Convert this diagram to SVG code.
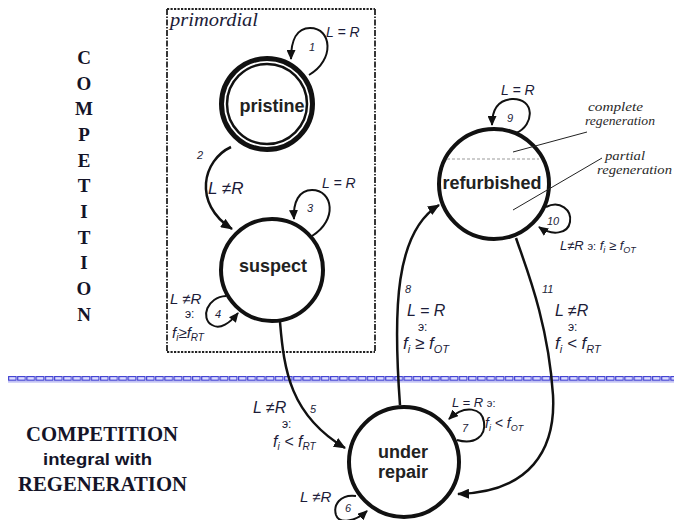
<svg xmlns="http://www.w3.org/2000/svg" width="674" height="520" viewBox="0 0 674 520">
  <defs>
    <marker id="ah" viewBox="0 0 12 10" refX="11" refY="5" markerWidth="12" markerHeight="10" orient="auto" markerUnits="userSpaceOnUse">
      <path d="M0,0 L12,5 L0,10 z" fill="#111"/>
    </marker>
    <marker id="ahs" viewBox="0 0 10 9" refX="9" refY="4.5" markerWidth="10" markerHeight="9" orient="auto" markerUnits="userSpaceOnUse">
      <path d="M0,0 L10,4.5 L0,9 z" fill="#111"/>
    </marker>
    <pattern id="rule" width="9.2" height="7" patternUnits="userSpaceOnUse" x="8" y="376">
      <rect x="0.6" y="0.6" width="7.6" height="3.6" fill="#dcdcff" stroke="#3a3ad0" stroke-width="1.1"/>
      <line x1="0" y1="5.9" x2="9.2" y2="5.9" stroke="#a9a9f0" stroke-width="1.2"/>
    </pattern>
  </defs>
  <style>
    .lbl { font-family: "Liberation Sans", Arial, sans-serif; font-style: italic; fill: #1c1c38; }
    .num { font-family: "Liberation Sans", Arial, sans-serif; font-style: italic; font-size: 11px; fill: #1c1c38; }
    .e { font-family: "Liberation Sans", Arial, sans-serif; font-size: 12px; fill: #1c1c38; }
    .name { font-family: "Liberation Sans", Arial, sans-serif; font-weight: bold; font-size: 18px; text-anchor: middle; fill: #222; }
    .ring { fill: #fff; stroke: #111; stroke-width: 4; }
    .edge { fill: none; stroke: #111; stroke-width: 2.5; marker-end: url(#ah); }
    .loop { fill: none; stroke: #111; stroke-width: 2; marker-end: url(#ahs); }
    .serif { font-family: "Liberation Serif", "Times New Roman", serif; font-weight: bold; fill: #141428; }
    .note { font-family: "Liberation Serif", "Times New Roman", serif; font-style: italic; font-size: 13px; fill: #2a2a2a; }
    .pointer { stroke: #222; stroke-width: 1; fill: none; }
  </style>

  <rect width="674" height="520" fill="#fff"/>

  <!-- side heading, stacked letters -->
  <g id="side-heading" class="serif" font-size="19" text-anchor="middle">
    <text x="84" y="64">C</text>
    <text x="84" y="90">O</text>
    <text x="84" y="115">M</text>
    <text x="84" y="141">P</text>
    <text x="84" y="167">E</text>
    <text x="84" y="192">T</text>
    <text x="84" y="218">I</text>
    <text x="84" y="244">T</text>
    <text x="84" y="269">I</text>
    <text x="84" y="295">O</text>
    <text x="84" y="321">N</text>
  </g>

  <!-- lower heading -->
  <g id="lower-heading">
    <text class="serif" x="26" y="441" font-size="20" textLength="152" lengthAdjust="spacingAndGlyphs">COMPETITION</text>
    <text x="43" y="465" font-family="Liberation Sans, Arial, sans-serif" font-weight="bold" font-size="17" fill="#141428" textLength="109" lengthAdjust="spacingAndGlyphs">integral with</text>
    <text class="serif" x="18" y="491" font-size="20" textLength="169" lengthAdjust="spacingAndGlyphs">REGENERATION</text>
  </g>

  <!-- primordial frame -->
  <g id="primordial">
    <path d="M167 9 H375 M167 352 H375" stroke="#222" stroke-width="2" stroke-dasharray="2.2 1.3" fill="none"/>
    <path d="M167 9 V352 M375 9 V352" stroke="#222" stroke-width="1.8" stroke-dasharray="6 1.5 1.5 1.5" fill="none"/>
    <text x="170" y="26" font-family="Liberation Serif, serif" font-style="italic" font-size="19" fill="#1c1c38" textLength="88" lengthAdjust="spacingAndGlyphs">primordial</text>
  </g>

  <!-- boundary rule -->
  <rect id="boundary" x="8" y="376" width="666" height="7" fill="url(#rule)"/>

  <!-- connectors -->
  <g id="connectors">
    <path id="t1" class="loop" d="M309 75 C335 60, 332 28, 310 28 C297 28, 291 40, 291 59"/>
    <path id="t2" class="edge" d="M231 147 C203 160, 192 203, 232 229"/>
    <path id="t3" class="loop" d="M312 236 C338 220, 333 190, 312 190 C299 190, 293 202, 294 219"/>
    <path id="t4" class="loop" d="M226 296 C207 297, 200 318, 212 325 C220 330, 230 323, 238 313"/>
    <path id="t5" class="edge" d="M280 322 C284 370, 290 415, 345 448"/>
    <path id="t6" class="loop" d="M356 496 C340 494, 333 505, 336 515 C339 524, 355 522, 367 511"/>
    <path id="t7" class="loop" d="M457 440 C475 445, 486 436, 484 422 C482 408, 465 404, 449 419"/>
    <path id="t8" class="edge" d="M400 405 C393 310, 395 232, 439 205"/>
    <path id="t9" class="loop" d="M516 133 C535 125, 535 98, 512 99 C498 100, 492 110, 492 125"/>
    <path id="t10" class="loop" d="M546 207 C560 200, 572 210, 570 222 C568 234, 552 236, 539 227"/>
    <path id="t11" class="edge" d="M516 238 C525 265, 548 320, 553 395 C556 450, 530 492, 458 494"/>
  </g>

  <!-- states -->
  <g id="pristine">
    <circle cx="267" cy="104" r="45.5" fill="#fff" stroke="#111" stroke-width="5"/>
    <circle cx="267" cy="104" r="40" fill="none" stroke="#111" stroke-width="2.5"/>
    <text class="name" x="272" y="112">pristine</text>
  </g>
  <g id="suspect">
    <circle class="ring" cx="272" cy="270" r="51"/>
    <text class="name" x="273" y="272">suspect</text>
  </g>
  <g id="refurbished">
    <circle class="ring" cx="494" cy="184" r="55"/>
    <line x1="447" y1="159" x2="539" y2="159" stroke="#999" stroke-width="1.2" stroke-dasharray="3 2"/>
    <text class="name" x="492" y="189" font-size="16">refurbished</text>
  </g>
  <g id="under-repair">
    <circle class="ring" cx="404" cy="462" r="55"/>
    <text class="name" x="403" y="458">under</text>
    <text class="name" x="403" y="478">repair</text>
  </g>

  <!-- region notes inside refurbished -->
  <g id="notes">
    <line class="pointer" x1="513" y1="152" x2="587" y2="132"/>
    <line class="pointer" x1="513" y1="210" x2="602" y2="158"/>
    <text class="note" x="588" y="111" textLength="55" lengthAdjust="spacingAndGlyphs">complete</text>
    <text class="note" x="585" y="125" textLength="70" lengthAdjust="spacingAndGlyphs">regeneration</text>
    <text class="note" x="605" y="160" textLength="40" lengthAdjust="spacingAndGlyphs">partial</text>
    <text class="note" x="597" y="174" textLength="75" lengthAdjust="spacingAndGlyphs">regeneration</text>
  </g>

  <!-- transition labels -->
  <g id="labels">
    <!-- 1 -->
    <text class="num" x="309" y="51" font-size="10">1</text>
    <text class="lbl" x="326" y="37" font-size="14">L = R</text>
    <!-- 2 -->
    <text class="num" x="197" y="159">2</text>
    <text class="lbl" x="208" y="194" font-size="17">L ≠R</text>
    <!-- 3 -->
    <text class="num" x="307" y="212" font-size="10">3</text>
    <text class="lbl" x="322" y="188" font-size="14">L = R</text>
    <!-- 4 -->
    <text class="lbl" x="170" y="304" font-size="15">L ≠R</text>
    <text class="e" x="185" y="318">э:</text>
    <text class="num" x="215" y="318" font-size="10">4</text>
    <text class="lbl" x="172" y="338" font-size="15">f<tspan font-size="10" dy="3">i</tspan><tspan dy="-3">≥f</tspan><tspan font-size="10" dy="3">RT</tspan></text>
    <!-- 5 -->
    <text class="lbl" x="253" y="413" font-size="16">L ≠R</text>
    <text class="num" x="310" y="413">5</text>
    <text class="e" x="282" y="428">э:</text>
    <text class="lbl" x="273" y="447" font-size="16">f<tspan font-size="10" dy="3">i</tspan><tspan dy="-3"> &lt; f</tspan><tspan font-size="10" dy="3">RT</tspan></text>
    <!-- 6 -->
    <text class="lbl" x="300" y="502" font-size="15">L ≠R</text>
    <text class="num" x="345" y="512">6</text>
    <!-- 7 -->
    <text class="lbl" x="452" y="407" font-size="13">L = R <tspan font-style="normal" font-size="11">э:</tspan></text>
    <text class="num" x="462" y="432">7</text>
    <text class="lbl" x="485" y="428" font-size="14">f<tspan font-size="9" dy="3">i</tspan><tspan dy="-3"> &lt; f</tspan><tspan font-size="9" dy="3">OT</tspan></text>
    <!-- 8 -->
    <text class="num" x="405" y="293">8</text>
    <text class="lbl" x="407" y="316" font-size="16">L = R</text>
    <text class="e" x="418" y="331">э:</text>
    <text class="lbl" x="403" y="349" font-size="17">f<tspan font-size="11" dy="4">i</tspan><tspan dy="-4"> ≥ f</tspan><tspan font-size="11" dy="4">OT</tspan></text>
    <!-- 9 -->
    <text class="lbl" x="501" y="95" font-size="14">L = R</text>
    <text class="num" x="507" y="122">9</text>
    <!-- 10 -->
    <text class="num" x="547" y="225">10</text>
    <text class="lbl" x="560" y="250" font-size="13">L≠R <tspan font-style="normal" font-size="11">э:</tspan> f<tspan font-size="9" dy="3">i</tspan><tspan dy="-3"> ≥ f</tspan><tspan font-size="9" dy="3">OT</tspan></text>
    <!-- 11 -->
    <text class="num" x="542" y="293">11</text>
    <text class="lbl" x="555" y="316" font-size="16">L ≠R</text>
    <text class="e" x="568" y="331">э:</text>
    <text class="lbl" x="555" y="349" font-size="17">f<tspan font-size="11" dy="4">i</tspan><tspan dy="-4"> &lt; f</tspan><tspan font-size="11" dy="4">RT</tspan></text>
  </g>
</svg>
